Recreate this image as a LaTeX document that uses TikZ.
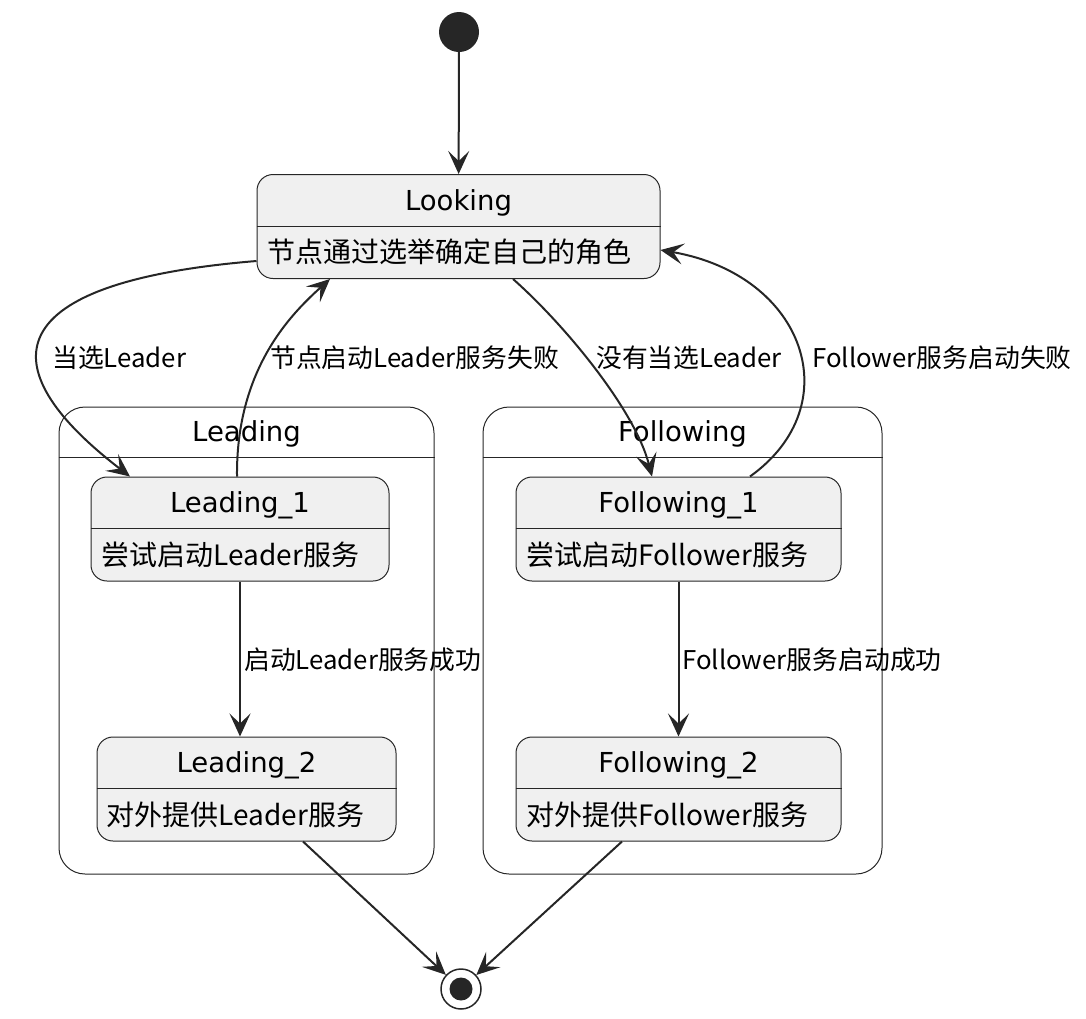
\documentclass[tikz,border=0pt]{standalone}
\usepackage{fontspec}
\setmainfont{DejaVu Sans}
\newfontfamily\cjk{Noto Sans CJK SC}
\usetikzlibrary{arrows.meta,positioning,calc}

\begin{document}
\begin{tikzpicture}[x=1pt,y=-1pt,
		statebox/.style={draw=black!85,fill=black!6,line width=1pt,rounded corners=16pt,
			minimum width=#1,minimum height=104pt,inner sep=0pt},
		groupbox/.style={draw=black!85,line width=1pt,rounded corners=26pt,
			minimum width=#1,minimum height=467pt,inner sep=0pt},
		title/.style={font=\fontsize{27.5}{33}\selectfont,inner sep=0pt,anchor=base},
		desc/.style={font=\cjk\fontsize{28}{34}\selectfont,inner sep=0pt,anchor=base west},
		lbl/.style={font=\cjk\fontsize{25.8}{31}\selectfont,inner sep=0pt,anchor=base west},
		trans/.style={draw=black!85,line width=2pt,-{Stealth[length=23pt,width=21pt,inset=10pt]}}]
	\useasboundingbox (0,0) rectangle (1086,1018);
	%start / end
	\node (start) [circle,fill=black!85,minimum size=40pt,inner sep=0pt] at (459,32) {};
	\node (stop) [circle,draw=black!85,line width=1.5pt,fill=white,minimum size=40pt,inner sep=0pt] at (461,989) {};
	\node (stopdot) [circle,fill=black!85,minimum size=23pt,inner sep=0pt] at (stop) {};
	%groups
	\node (leading) [groupbox=375pt] at (246.5,640.5) {};
	\node (following) [groupbox=399pt] at (682.5,640.5) {};
	\draw[black!85,line width=1pt] ([yshift=-51pt]leading.north west) -- ([yshift=-51pt]leading.north east);
	\draw[black!85,line width=1pt] ([yshift=-51pt]following.north west) -- ([yshift=-51pt]following.north east);
	\node (leading-t) [title] at ([yshift=-35pt]leading.north) {Leading};
	\node (following-t) [title] at ([yshift=-35pt]following.north) {Following};
	%states
	\node (looking) [statebox=403pt] at (458.5,226.5) {};
	\node (lead1) [statebox=298pt] at (240,529) {};
	\node (lead2) [statebox=299pt] at (246.5,789) {};
	\node (follow1) [statebox=325pt] at (678.5,529) {};
	\node (follow2) [statebox=325pt] at (678.5,789) {};
	\foreach \s in {looking,lead1,lead2,follow1,follow2}
		\draw[black!85,line width=1pt] ([yshift=-52pt]\s.north west) -- ([yshift=-52pt]\s.north east);
	\node (looking-t) [title] at ([yshift=-36pt]looking.north) {Looking};
	\node (looking-d) [desc] at ([xshift=11pt,yshift=-88pt]looking.north west) {节点通过选举确定自己的角色};
	\node (lead1-t) [title] at ([yshift=-36pt]lead1.north) {Leading\_1};
	\node (lead1-d) [desc] at ([xshift=11pt,yshift=-89pt]lead1.north west) {尝试启动Leader服务};
	\node (lead2-t) [title] at ([yshift=-36pt]lead2.north) {Leading\_2};
	\node (lead2-d) [desc] at ([xshift=10pt,yshift=-89pt]lead2.north west) {对外提供Leader服务};
	\node (follow1-t) [title] at ([yshift=-36pt]follow1.north) {Following\_1};
	\node (follow1-d) [desc] at ([xshift=11pt,yshift=-89pt]follow1.north west) {尝试启动Follower服务};
	\node (follow2-t) [title] at ([yshift=-36pt]follow2.north) {Following\_2};
	\node (follow2-d) [desc] at ([xshift=11pt,yshift=-89pt]follow2.north west) {对外提供Follower服务};
	%transitions
	\draw[trans] (start) -- (looking);
	\draw[trans] ([yshift=-34.5pt]looking.west) .. controls (0,282) and (-15,365) .. ([xshift=-110pt]lead1.north);
	\draw[trans] ([xshift=-3pt]lead1.north) .. controls (236,370) and (290,315) .. ([xshift=-128.5pt]looking.south);
	\draw[trans] ([xshift=54.5pt]looking.south) .. controls (565,325) and (635,410) .. ([xshift=-26.5pt]follow1.north);
	\draw[trans] ([xshift=71.5pt]follow1.north) .. controls (850,405) and (805,275) .. ([yshift=-23.5pt]looking.east);
	\draw[trans] (lead1) -- (lead2.north -| lead1);
	\draw[trans] (follow1) -- (follow2);
	\draw[trans] ([xshift=56.5pt]lead2.south) -- (stop);
	\draw[trans] ([xshift=-56.5pt]follow2.south) -- (stop);
	%labels
	\node (l-win) [lbl] at (52,367) {当选Leader};
	\node (l-leadfail) [lbl] at (270,367) {节点启动Leader服务失败};
	\node (l-lose) [lbl] at (596,367) {没有当选Leader};
	\node (l-followfail) [lbl] at (812,367) {Follower服务启动失败};
	\node (l-leadok) [lbl] at (244,669) {启动Leader服务成功};
	\node (l-followok) [lbl] at (682,669) {Follower服务启动成功};
\end{tikzpicture}
\end{document}
